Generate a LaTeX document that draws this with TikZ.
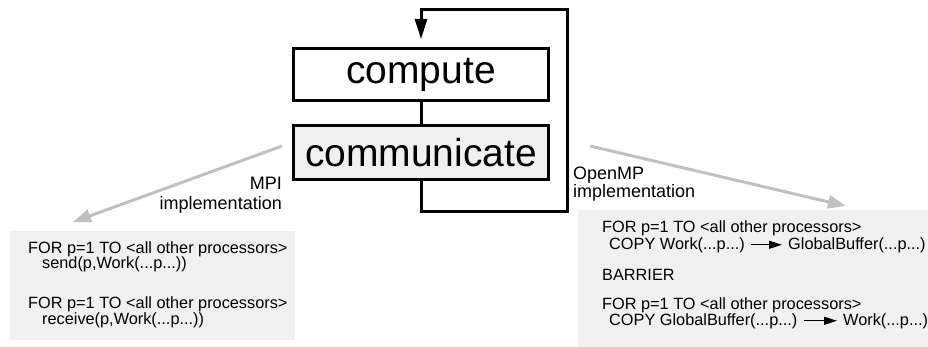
\documentclass[tikz,border=0pt]{standalone}
\usepackage{fontspec}
\setmainfont{Liberation Sans}
\usetikzlibrary{arrows.meta}
\definecolor{arrowgray}{RGB}{192,192,192}
\definecolor{panelgray}{RGB}{240,240,240}
\begin{document}
\begin{tikzpicture}[x=1pt,y=-1pt,
  bigbox/.style={draw=black,line width=3pt,minimum width=255pt,inner sep=0pt,
    font=\fontsize{39}{44}\selectfont},
  loopline/.style={line width=3pt},
  grayarrow/.style={draw=arrowgray,line width=3pt,
    -{Triangle[length=18pt,width=13pt]}},
  panel/.style={fill=panelgray,draw=none,anchor=north west,inner sep=0pt},
  code/.style={anchor=base west,inner sep=0pt,font=\fontsize{16.3}{18}\selectfont},
  lbl/.style={inner sep=0pt,font=\fontsize{18}{20}\selectfont},
  smallarrow/.style={line width=1.2pt,-{Triangle[length=13pt,width=8pt]},
    shorten <=6pt,shorten >=6pt}
]
\useasboundingbox (0,0) rectangle (928,347);

% panels
\node[panel,minimum width=285pt,minimum height=109pt] (mpibox) at (10,231) {};
\node[panel,minimum width=350pt,minimum height=137pt] (ompbox) at (578,210) {};

% main boxes
\node[bigbox,fill=white,minimum height=52pt] (comp) at (421,74.5) {compute};
\node[bigbox,fill=panelgray,minimum height=54pt] (comm) at (421,152.5) {communicate};
\draw[loopline] (comp.south) -- (comm.north);

% loop
\coordinate (l1) at (421,212);
\coordinate (l2) at (567,212);
\coordinate (l3) at (567,10);
\coordinate (l4) at (421,10);
\draw[loopline,-{Triangle[length=20pt,width=12pt]},shorten >=8pt]
  (comm.south) -- (l1) -- (l2) -- (l3) -- (l4) -- (comp.north);

% gray arrows
\coordinate (mpiS) at (282,146);
\coordinate (mpiE) at (73,222);
\coordinate (ompS) at (590,146);
\coordinate (ompE) at (846,206);
\draw[grayarrow] (mpiS) -- (mpiE);
\draw[grayarrow] (ompS) -- (ompE);

% labels
\node[lbl,anchor=base east] (mpi1) at (282,190) {MPI};
\node[lbl,anchor=base east] (mpi2) at (282,210) {implementation};
\node[lbl,anchor=base west] (omp1) at (573,180) {OpenMP};
\node[lbl,anchor=base west] (omp2) at (573,198) {implementation};

% MPI code
\node[code] (m1) at (28,253) {FOR p=1 TO <all other processors>};
\node[code] (m2) at (42,268.5) {send(p,Work(...p...))};
\node[code] (m3) at (28,308) {FOR p=1 TO <all other processors>};
\node[code] (m4) at (42,324) {receive(p,Work(...p...))};

% OpenMP code
\node[code] (o1) at (602,233) {FOR p=1 TO <all other processors>};
\node[code] (o2a) at (609,249) {COPY Work(...p...)};
\node[code] (o2b) at (788,249) {GlobalBuffer(...p...)};
\draw[smallarrow] (o2a.east) -- (o2b.west);
\node[code] (o3) at (602,280) {BARRIER};
\node[code] (o4) at (602,309) {FOR p=1 TO <all other processors>};
\node[code] (o5a) at (609,325) {COPY GlobalBuffer(...p...)};
\node[code] (o5b) at (843,325) {Work(...p...)};
\draw[smallarrow] (o5a.east) -- (o5b.west);
\end{tikzpicture}
\end{document}
